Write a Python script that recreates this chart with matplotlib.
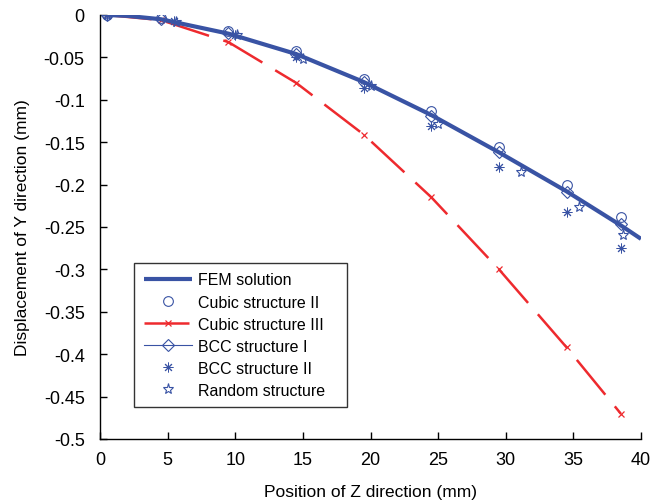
import matplotlib
matplotlib.use("Agg")

import matplotlib.pyplot as plt

plt.rcParams['font.family'] = ['Liberation Sans', 'DejaVu Sans']

# positions along Z (mm)
z_main = [0.5, 4.5, 9.5, 14.5, 19.5, 24.5, 29.5, 34.5, 38.5]

# FEM solution
z_fem = [0.5, 2.0, 4.5, 9.5, 14.5, 19.5, 24.5, 29.5, 34.5, 38.5, 40.0]
y_fem = [0.0, -0.001, -0.005, -0.022, -0.046, -0.079, -0.118, -0.162, -0.208, -0.248, -0.264]

# Cubic structure II
y_cubic2 = [0.0, -0.004, -0.019, -0.043, -0.075, -0.113, -0.156, -0.201, -0.238]

# Cubic structure III
y_cubic3 = [0.0, -0.006, -0.032, -0.080, -0.141, -0.215, -0.300, -0.392, -0.470]

# BCC structure I
y_bcc1 = [0.0, -0.005, -0.021, -0.046, -0.079, -0.119, -0.162, -0.209, -0.247]

# BCC structure II
z_bcc2 = [0.5, 5.5, 10.0, 14.5, 19.5, 24.5, 29.5, 34.5, 38.5]
y_bcc2 = [0.0, -0.007, -0.024, -0.050, -0.086, -0.131, -0.179, -0.232, -0.275]

# Random structure
z_rand = [0.5, 5.6, 10.1, 15.0, 20.0, 25.0, 31.1, 35.4, 38.7]
y_rand = [0.0, -0.008, -0.023, -0.052, -0.084, -0.128, -0.185, -0.226, -0.260]

blue = '#3953a4'
red = '#ee2a2e'

fig = plt.figure(figsize=(6.51, 5.02), dpi=100)
ax = fig.add_axes([100 / 651, 62 / 502, 541 / 651, 424 / 502])

ax.plot(z_main, y_cubic3, color=red, lw=1.8, dashes=(18, 6), marker='x',
        ms=4, mew=0.9, label='Cubic structure III')
ax.plot(z_main, y_cubic2, ls='none', marker='o', ms=7, mfc='none', mec=blue,
        mew=0.8, label='Cubic structure II')
ax.plot(z_main, y_bcc1, color=blue, lw=0.8, marker='D', ms=6, mfc='none',
        mec=blue, mew=0.8, label='BCC structure I')
ax.plot(z_bcc2, y_bcc2, ls='none', marker=(8, 2, 0), ms=7, mec=blue,
        mew=0.7, label='BCC structure II')
ax.plot(z_rand, y_rand, ls='none', marker='*', ms=8, mfc='none', mec=blue,
        mew=0.8, label='Random structure')
ax.plot(z_fem, y_fem, color=blue, lw=3, label='FEM solution',
        solid_capstyle='butt')

ax.set_xlim(0, 40)
ax.set_ylim(-0.5, 0)
ax.set_xticks(range(0, 41, 5))
ax.set_yticks([-0.5, -0.45, -0.4, -0.35, -0.3, -0.25, -0.2, -0.15, -0.1, -0.05, 0])
ax.set_yticklabels(['-0.5', '-0.45', '-0.4', '-0.35', '-0.3', '-0.25', '-0.2',
                    '-0.15', '-0.1', '-0.05', '0'])
ax.tick_params(direction='in', length=5, width=1, labelsize=13)
ax.tick_params(axis='y', pad=11)
ax.tick_params(axis='x', pad=9)
ax.spines['top'].set_visible(False)
ax.spines['right'].set_visible(False)
ax.spines['left'].set_linewidth(1)
ax.spines['bottom'].set_linewidth(1)

ax.set_xlabel('Position of Z direction (mm)', fontsize=12.5, labelpad=11)
ax.set_ylabel('Displacement of Y direction (mm)', fontsize=12.5, labelpad=10)

handles, labels = ax.get_legend_handles_labels()
order = ['FEM solution', 'Cubic structure II', 'Cubic structure III',
         'BCC structure I', 'BCC structure II', 'Random structure']
hmap = dict(zip(labels, handles))
leg = ax.legend([hmap[k] for k in order], order, loc='lower left',
                bbox_to_anchor=(0.063, 0.075, 0.394, 0.3), mode='expand',
                borderaxespad=0, fontsize=11.5,
                frameon=True, fancybox=False, edgecolor='black',
                handlelength=3.0, handletextpad=0.4, labelspacing=0.44,
                borderpad=0.6)
leg.get_frame().set_linewidth(1)

fig.savefig('out.png', dpi=100)
